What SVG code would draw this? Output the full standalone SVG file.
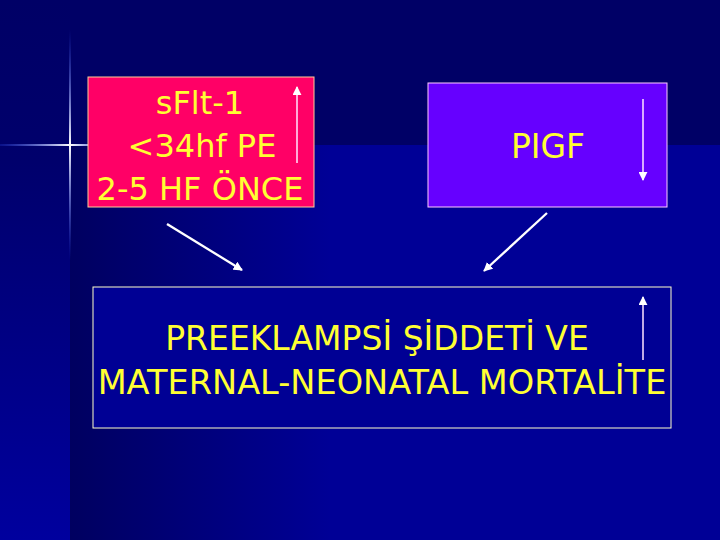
<svg xmlns="http://www.w3.org/2000/svg" width="720" height="540" viewBox="0 0 720 540">
<defs>
<linearGradient id="mainBg" x1="70" y1="0" x2="330" y2="0" gradientUnits="userSpaceOnUse">
<stop offset="0" stop-color="#000060"/>
<stop offset="1" stop-color="#000096"/>
</linearGradient>
<linearGradient id="stripBg" x1="0" y1="0" x2="0" y2="540" gradientUnits="userSpaceOnUse">
<stop offset="0" stop-color="#000066"/>
<stop offset="0.3" stop-color="#00006c"/>
<stop offset="1" stop-color="#00009e"/>
</linearGradient>
<linearGradient id="vFlare" x1="0" y1="30" x2="0" y2="260" gradientUnits="userSpaceOnUse">
<stop offset="0" stop-color="#3355ff" stop-opacity="0"/>
<stop offset="0.5" stop-color="#ffffff" stop-opacity="1"/>
<stop offset="1" stop-color="#3355ff" stop-opacity="0"/>
</linearGradient>
<linearGradient id="hFlare" x1="0" y1="0" x2="90" y2="0" gradientUnits="userSpaceOnUse">
<stop offset="0" stop-color="#3355ff" stop-opacity="0.2"/>
<stop offset="0.78" stop-color="#ffffff" stop-opacity="1"/>
<stop offset="1" stop-color="#aabbff" stop-opacity="0.8"/>
</linearGradient>
<marker id="head" viewBox="0 0 10 10" refX="9" refY="5" markerWidth="4" markerHeight="4" orient="auto" markerUnits="strokeWidth">
<path d="M0,0 L10,5 L0,10 z" fill="#ffffff"/>
</marker>
<marker id="headSmall" viewBox="0 0 10 10" refX="9" refY="5" markerWidth="6" markerHeight="6" orient="auto" markerUnits="strokeWidth">
<path d="M0,0 L10,5 L0,10 z" fill="#ffffff"/>
</marker>
</defs>
<style>
.txt { font-family: "DejaVu Sans", "Noto Sans", sans-serif; fill: #ffff33; text-anchor: middle; }
.conn { stroke: #ffffff; stroke-width: 2.3; fill: none; marker-end: url(#head); }
.inner { stroke: #ffe6ff; stroke-width: 1.5; fill: none; marker-end: url(#headSmall); }
</style>

<!-- background -->
<rect x="0" y="0" width="720" height="540" fill="#000066"/>
<rect x="70" y="145" width="650" height="395" fill="url(#mainBg)"/>
<rect x="0" y="0" width="70" height="540" fill="url(#stripBg)"/>
<rect x="69" y="30" width="2" height="230" fill="url(#vFlare)"/>
<rect x="0" y="144" width="90" height="2" fill="url(#hFlare)"/>

<g id="node-sflt">
<rect x="88" y="77" width="226" height="130" fill="#ff0066" stroke="#ffcc99" stroke-width="1"/>
<text class="txt" x="200" y="114" font-size="32">sFlt-1</text>
<text class="txt" x="202" y="157" font-size="32">&lt;34hf PE</text>
<text class="txt" x="200" y="200" font-size="32">2-5 HF ÖNCE</text>
<line class="inner" x1="297" y1="163" x2="297" y2="87"/>
</g>

<g id="node-pigf">
<rect x="428" y="83" width="239" height="124" fill="#6600ff" stroke="#ffccff" stroke-width="1"/>
<text class="txt" x="548" y="158" font-size="33">PIGF</text>
<line class="inner" x1="643" y1="99" x2="643" y2="180"/>
</g>

<g id="node-outcome">
<rect x="93" y="287" width="578" height="141" fill="#000094" stroke="#ffffcc" stroke-width="1"/>
<text class="txt" x="377" y="350" font-size="33">PREEKLAMPSİ ŞİDDETİ VE</text>
<text class="txt" x="382" y="394" font-size="33.6">MATERNAL-NEONATAL MORTALİTE</text>
<line class="inner" x1="643" y1="360" x2="643" y2="297"/>
</g>

<g id="connectors">
<line class="conn" x1="167" y1="224" x2="242" y2="270"/>
<line class="conn" x1="547" y1="213" x2="484" y2="271"/>
</g>
</svg>
